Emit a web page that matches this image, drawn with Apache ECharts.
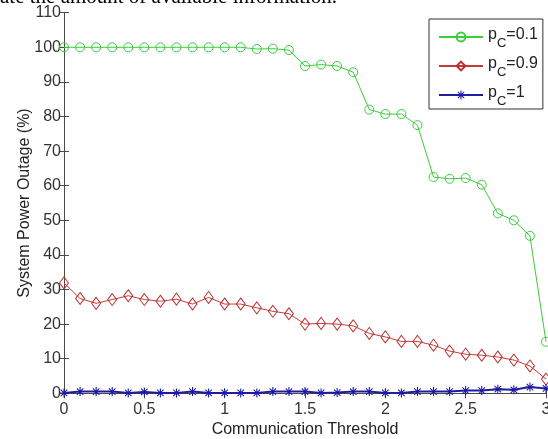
<!DOCTYPE html>
<html>
<head>
<meta charset="utf-8">
<script src="https://cdn.jsdelivr.net/npm/echarts@6/dist/echarts.min.js"></script>
<style>
html,body{margin:0;padding:0;background:#fff;}
#chart{width:548px;height:439px;}
</style>
</head>
<body>
<div id="chart"></div>
<script>
const thresholds = [0,0.1,0.2,0.3,0.4,0.5,0.6,0.7,0.8,0.9,1.0,1.1,1.2,1.3,1.4,1.5,1.6,1.7,1.8,1.9,2.0,2.1,2.2,2.3,2.4,2.5,2.6,2.7,2.8,2.9,3.0];
const pc01 = [100,100,100,100,100,100,100,100,100,100,100,100,99.5,99.6,99.2,94.6,95.0,94.6,92.8,82.0,80.7,80.7,77.5,62.5,62.0,62.2,60.3,52.0,50.0,45.5,14.9];
const pc09 = [31.9,27.4,26.0,27.1,28.2,27.1,26.6,27.2,25.8,27.7,25.8,25.8,24.7,23.7,23.0,20.0,20.2,20.0,19.5,17.3,16.3,15.0,15.0,13.9,12.2,11.3,11.0,10.5,9.6,7.9,4.1];
const pc1 = [0.1,0.5,0.5,0.5,0.1,0.4,0.1,0.1,0.5,0.1,0.1,0.1,0.1,0.5,0.5,0.5,0.1,0.2,0.5,0.5,0.1,0.1,0.5,0.5,0.5,0.8,0.8,1.2,1.0,1.8,1.4];
const seriesNames = ['p_C=0.1','p_C=0.9','p_C=1'];
const xTitle = 'Communication Threshold';
const yTitle = 'System Power Outage (%)';
const topText = 'ate the amount of available information.';

const pairs = arr => thresholds.map((x,i)=>[x,arr[i]]);
const star = 'path://M4.4 0L5.6 0L5.6 10L4.4 10Z M0 4.4L10 4.4L10 5.6L0 5.6Z M1 1.8L1.8 1L9 8.2L8.2 9Z M8.2 1L9 1.8L1.8 9L1 8.2Z';
const axisCol = '#4a4a4a';
const font = 'Liberation Sans, Arial, sans-serif';

const chart = echarts.init(document.getElementById('chart'), null, {renderer:'canvas'});
chart.setOption({
  backgroundColor:'#fff',
  animation:false,
  graphic:[{
    type:'text', x:0, y:8, z:0,
    style:{text: topText, font:'21px "Liberation Serif", serif', fill:'#000', verticalAlign:'bottom', align:'left'}
  }],
  grid:{left:64, right:2, top:12.7, bottom:45.7, containLabel:false, outerBoundsMode:'none'},
  legend:{
    orient:'vertical', left:429, top:19,
    padding:[8,5,1,9], itemGap:6, itemWidth:44, itemHeight:11,
    backgroundColor:'#fff', borderColor:'#333', borderWidth:1, borderRadius:0,
    data: seriesNames,
    formatter: name => '{p|p}{s|C}{p|=' + name.split('=')[1] + '}',
    textStyle:{
      fontFamily:font, color:'#222',
      rich:{
        p:{fontSize:16, lineHeight:20, verticalAlign:'top', fontFamily:font, color:'#222'},
        s:{fontSize:13, lineHeight:14, padding:[10,0,0,0], verticalAlign:'top', fontFamily:font, color:'#222'}
      }
    }
  },
  xAxis:[{
    type:'value', min:0, max:3, interval:0.5,
    name:xTitle, nameLocation:'middle', nameGap:28, nameMoveOverlap:false,
    nameTextStyle:{fontFamily:font, fontSize:16, color:'#222'},
    axisLine:{show:true, lineStyle:{color:axisCol, width:1}},
    axisTick:{show:true, inside:true, length:5, lineStyle:{color:axisCol}},
    axisLabel:{fontFamily:font, fontSize:16, color:'#333', margin:8},
    splitLine:{show:false}
  },{
    type:'value', min:0, max:3, interval:0.5, position:'top',
    axisLine:{show:true, lineStyle:{color:axisCol, width:1}},
    axisTick:{show:true, inside:true, length:5, lineStyle:{color:axisCol}},
    axisLabel:{show:false}, splitLine:{show:false}
  }],
  yAxis:[{
    type:'value', min:0, max:110, interval:10,
    name:yTitle, nameLocation:'middle', nameGap:31, nameRotate:90, nameMoveOverlap:false,
    nameTextStyle:{fontFamily:font, fontSize:16, color:'#222'},
    axisLine:{show:true, lineStyle:{color:axisCol, width:1}},
    axisTick:{show:true, inside:true, length:5, lineStyle:{color:axisCol}},
    axisLabel:{fontFamily:font, fontSize:16, color:'#333', margin:3},
    splitLine:{show:false}
  },{
    type:'value', min:0, max:110, interval:10, position:'right',
    axisLine:{show:true, lineStyle:{color:axisCol, width:1}},
    axisTick:{show:true, inside:true, length:5, lineStyle:{color:axisCol}},
    axisLabel:{show:false}, splitLine:{show:false}
  }],
  series:[{
    name:seriesNames[0], type:'line', data:pairs(pc01),
    symbol:'circle', symbolSize:9, showAllSymbol:true,
    lineStyle:{color:'#3ccc3c', width:1},
    itemStyle:{color:'rgba(255,255,255,0)', borderColor:'#3ccc3c', borderWidth:1}
  },{
    name:seriesNames[1], type:'line', data:pairs(pc09),
    symbol:'diamond', symbolSize:[9,12], showAllSymbol:true,
    lineStyle:{color:'#c83a3a', width:1},
    itemStyle:{color:'rgba(255,255,255,0)', borderColor:'#b83030', borderWidth:1}
  },{
    name:seriesNames[2], type:'line', data:pairs(pc1),
    symbol:star, symbolSize:9, showAllSymbol:true,
    lineStyle:{color:'#1e1ea0', width:2},
    itemStyle:{color:'#1a1aa8'}
  }]
});
</script>
</body>
</html>
